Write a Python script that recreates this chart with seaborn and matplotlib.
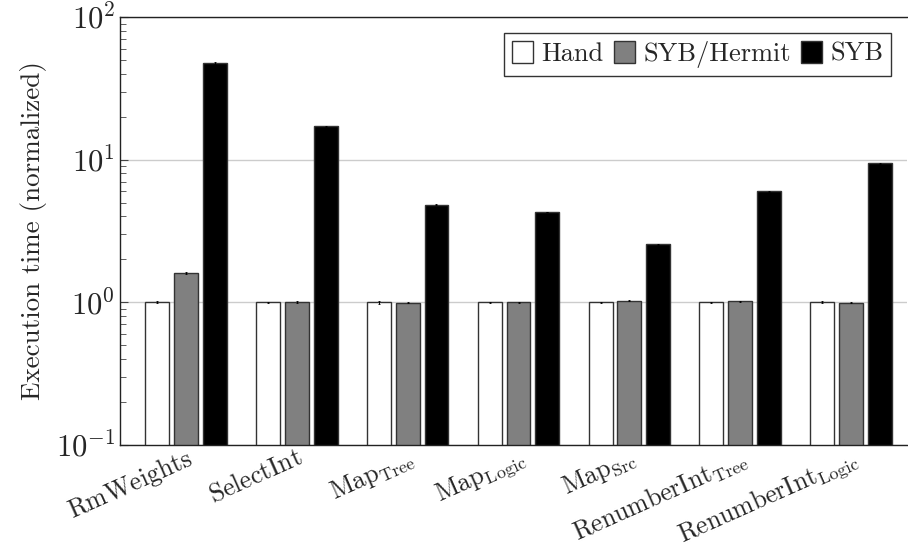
import matplotlib
matplotlib.use("Agg")
import matplotlib.pyplot as plt
import pandas as pd
import seaborn as sns

# benchmark names (mathtext for the subscripts)
benchmarks = [
    r"$\mathrm{RmWeights}$",
    r"$\mathrm{SelectInt}$",
    r"$\mathrm{Map}_{\mathrm{Tree}}$",
    r"$\mathrm{Map}_{\mathrm{Logic}}$",
    r"$\mathrm{Map}_{\mathrm{Src}}$",
    r"$\mathrm{RenumberInt}_{\mathrm{Tree}}$",
    r"$\mathrm{RenumberInt}_{\mathrm{Logic}}$",
]
variants = ["Hand", "SYB/Hermit", "SYB"]

# normalized execution times
hand = [1.0, 1.0, 1.0, 1.0, 1.0, 1.0, 1.0]
hermit = [1.61, 1.0, 0.99, 1.0, 1.03, 1.015, 0.99]
syb = [47.5, 17.2, 4.85, 4.3, 2.55, 6.0, 9.45]

# error bar half-widths
hand_err = [0.015, 0.01, 0.03, 0.01, 0.008, 0.01, 0.015]
hermit_err = [0.02, 0.015, 0.008, 0.008, 0.008, 0.008, 0.008]
syb_err = [0.6, 0.15, 0.03, 0.03, 0.02, 0.04, 0.06]

colors = ["white", "#808080", "black"]

df = pd.DataFrame({
    "benchmark": benchmarks * 3,
    "variant": [v for v in variants for _ in benchmarks],
    "time": hand + hermit + syb,
})

sns.set_theme(style="white")
plt.rcParams["font.family"] = ["cmr10", "DejaVu Serif"]
plt.rcParams["mathtext.fontset"] = "cm"
plt.rcParams["axes.formatter.use_mathtext"] = True
plt.rcParams["axes.unicode_minus"] = False

fig, ax = plt.subplots(figsize=(9.08, 5.53), dpi=100)
fig.subplots_adjust(left=120 / 908, right=0.999, top=1 - 17 / 553, bottom=1 - 445 / 553)

sns.barplot(data=df, x="benchmark", y="time", hue="variant", order=benchmarks,
            hue_order=variants, palette=colors, edgecolor="#333333", linewidth=1,
            width=0.78, gap=0.17, errorbar=None, ax=ax)
ax.set_yscale("log")

# small error bars on top of each bar
for cont, vals, errs in zip(ax.containers, [hand, hermit, syb], [hand_err, hermit_err, syb_err]):
    xs = [p.get_x() + p.get_width() / 2 for p in cont]
    ax.errorbar(xs, vals, yerr=errs, fmt="none", ecolor="black", elinewidth=0.7,
                capsize=1, capthick=0.6, zorder=5)

ax.set_ylim(0.1, 100)
ax.set_xlim(-0.595, 6.505)
ax.set_xlabel("")
ax.set_ylabel("Execution time (normalized)", fontsize=19.5, labelpad=6)

ax.yaxis.grid(True, which="major", color="#cccccc", lw=1)
ax.set_axisbelow(True)
ax.tick_params(axis="y", which="major", direction="in", length=6, width=0.8,
               labelsize=22, left=True, color="#444444")
ax.tick_params(axis="y", which="minor", direction="in", length=4, width=0.6,
               left=True, color="#444444")
ax.tick_params(axis="x", length=0, labelsize=18.5, pad=0)
plt.setp(ax.get_xticklabels(), rotation=24, ha="right", rotation_mode="anchor")

for side in ["left", "bottom", "top"]:
    ax.spines[side].set_visible(True)
    ax.spines[side].set_color("#222222")
    ax.spines[side].set_linewidth(1)
ax.spines["right"].set_visible(False)

leg = ax.legend(loc="upper right", ncol=3, fontsize=19, frameon=True, fancybox=False,
                handlelength=0.8, handleheight=0.9, handletextpad=0.3,
                columnspacing=0.4, borderpad=0.3, borderaxespad=0.6)
leg.get_frame().set_edgecolor("#333333")
leg.get_frame().set_linewidth(1)
leg.get_frame().set_alpha(1)

fig.savefig("out.png", dpi=100)
